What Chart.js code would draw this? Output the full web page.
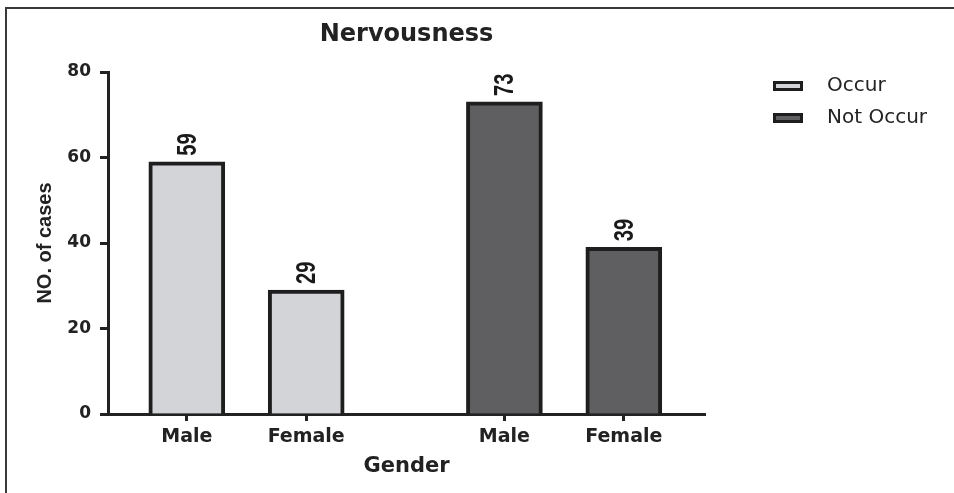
<!DOCTYPE html>
<html>
<head>
<meta charset="utf-8">
<script src="https://cdn.jsdelivr.net/npm/chart.js@4.4.1/dist/chart.umd.min.js"></script>
<style>
  body { margin: 0; background: #fff; }
  #frame { position: absolute; left: 5px; top: 7px; width: 949px; height: 486px; border-top: 2px solid #3a3a3a; border-left: 2px solid #3a3a3a; }
  #wrap { position: relative; width: 947px; height: 484px; }
</style>
</head>
<body>
<div id="frame"><div id="wrap"><canvas id="myChart"></canvas></div></div>
<script>
// chart data
const categories = ['Male', 'Female'];
const groups = ['Occur', 'Not Occur'];
const occurValues = [59, 29];
const notOccurValues = [73, 39];
const tickLabels = ['Male', 'Female', 'Male', 'Female'];
const yTicks = [0, 20, 40, 60, 80];

const fillColors = ['#d3d4d7', '#5f5f61'];
const barBorder = '#1e1e1e';
const axisColor = '#222';

// x position of a bar: groups are separated by a wider gap
const groupGap = 0.66;
function xPos(group, cat) {
    return group * (categories.length + groupGap) + cat;
}
const tickPositions = [];
groups.forEach((g, gi) => categories.forEach((c, ci) => tickPositions.push(xPos(gi, ci))));

// small legend markers: a bordered box with some room before the text
function legendMark(color) {
    const c = document.createElement('canvas');
    c.width = 44;
    c.height = 10;
    const ctx = c.getContext('2d');
    ctx.fillStyle = color;
    ctx.fillRect(0, 0, 30, 10);
    ctx.lineWidth = 3;
    ctx.strokeStyle = barBorder;
    ctx.strokeRect(1.5, 1.5, 27, 7);
    return c;
}
const legendMarks = fillColors.map(legendMark);

// value labels drawn rotated above each bar
const barLabels = {
    id: 'barLabels',
    afterDatasetsDraw(chart) {
        const ctx = chart.ctx;
        chart.data.datasets.forEach((ds, di) => {
            chart.getDatasetMeta(di).data.forEach((bar, i) => {
                ctx.save();
                ctx.translate(bar.x, bar.y - 6);
                ctx.rotate(-Math.PI / 2);
                ctx.scale(0.72, 1);
                ctx.font = 'bold 28px "Liberation Sans", Arial, sans-serif';
                ctx.fillStyle = '#1a1a1a';
                ctx.textAlign = 'left';
                ctx.textBaseline = 'middle';
                ctx.fillText(ds.data[i].y, 0, 1);
                ctx.restore();
            });
        });
    }
};

// keep the legend away from the plot, like the original
const legendPlace = {
    id: 'legendPlace',
    beforeInit(chart) {
        const fit = chart.legend.fit;
        chart.legend.fit = function () {
            fit.call(this);
            this.width = 249;
        };
    },
    afterLayout(chart) {
        chart.legend.left += 56;
        chart.legend.top -= 8;
    }
};

new Chart(document.getElementById('myChart'), {
    type: 'bar',
    data: {
        datasets: [{
            label: groups[0],
            data: occurValues.map((v, i) => ({ x: xPos(0, i), y: v })),
            backgroundColor: fillColors[0]
        }, {
            label: groups[1],
            data: notOccurValues.map((v, i) => ({ x: xPos(1, i), y: v })),
            backgroundColor: fillColors[1]
        }]
    },
    options: {
        responsive: true,
        maintainAspectRatio: false,
        animation: false,
        grouped: false,
        barThickness: 76,
        borderColor: barBorder,
        borderWidth: 4,
        layout: { padding: { top: 0, left: 0, right: 0, bottom: 14 } },
        plugins: {
            title: {
                display: true,
                text: 'Nervousness',
                fullSize: false,
                color: axisColor,
                font: { family: 'DejaVu Sans', size: 24, weight: 'bold' },
                padding: { top: 11.6, bottom: 22.6 }
            },
            legend: {
                position: 'right',
                align: 'start',
                fullSize: false,
                labels: {
                    usePointStyle: true,
                    pointStyleWidth: 44,
                    boxHeight: 10,
                    padding: 12,
                    color: axisColor,
                    font: { family: 'DejaVu Sans', size: 20 },
                    generateLabels: chart => Chart.defaults.plugins.legend.labels.generateLabels(chart)
                        .map((item, i) => ({ ...item, pointStyle: legendMarks[i] }))
                }
            },
            tooltip: { enabled: false }
        },
        scales: {
            x: {
                type: 'linear',
                min: -0.66,
                max: 4.34,
                offset: false,
                afterBuildTicks: scale => { scale.ticks = tickPositions.map(v => ({ value: v })); },
                afterFit: scale => { scale.height = 65; },
                ticks: {
                    padding: 5,
                    autoSkip: false,
                    maxRotation: 0,
                    color: axisColor,
                    font: { family: 'DejaVu Sans', size: 19, weight: 'bold' },
                    callback: (value, index) => tickLabels[index]
                },
                grid: { drawOnChartArea: false, offset: false, tickLength: 7, tickWidth: 3, tickColor: axisColor },
                border: { color: axisColor, width: 3 },
                title: {
                    display: true,
                    text: 'Gender',
                    color: axisColor,
                    font: { family: 'DejaVu Sans', size: 21, weight: 'bold' },
                    padding: { top: 7, bottom: 0 }
                }
            },
            y: {
                min: 0,
                max: 80,
                afterBuildTicks: scale => { scale.ticks = yTicks.map(v => ({ value: v })); },
                afterFit: scale => { scale.width = 101; },
                ticks: {
                    padding: 9,
                    color: axisColor,
                    font: { family: 'DejaVu Sans', size: 17, weight: 'bold' }
                },
                grid: { drawOnChartArea: false, tickLength: 8, tickWidth: 3, tickColor: axisColor },
                border: { color: axisColor, width: 3 },
                title: {
                    display: true,
                    text: 'NO. of cases',
                    color: axisColor,
                    font: { family: 'Liberation Sans', size: 20, weight: 'bold' },
                    padding: { top: 26, bottom: 0 }
                }
            }
        }
    },
    plugins: [barLabels, legendPlace]
});
</script>
</body>
</html>
